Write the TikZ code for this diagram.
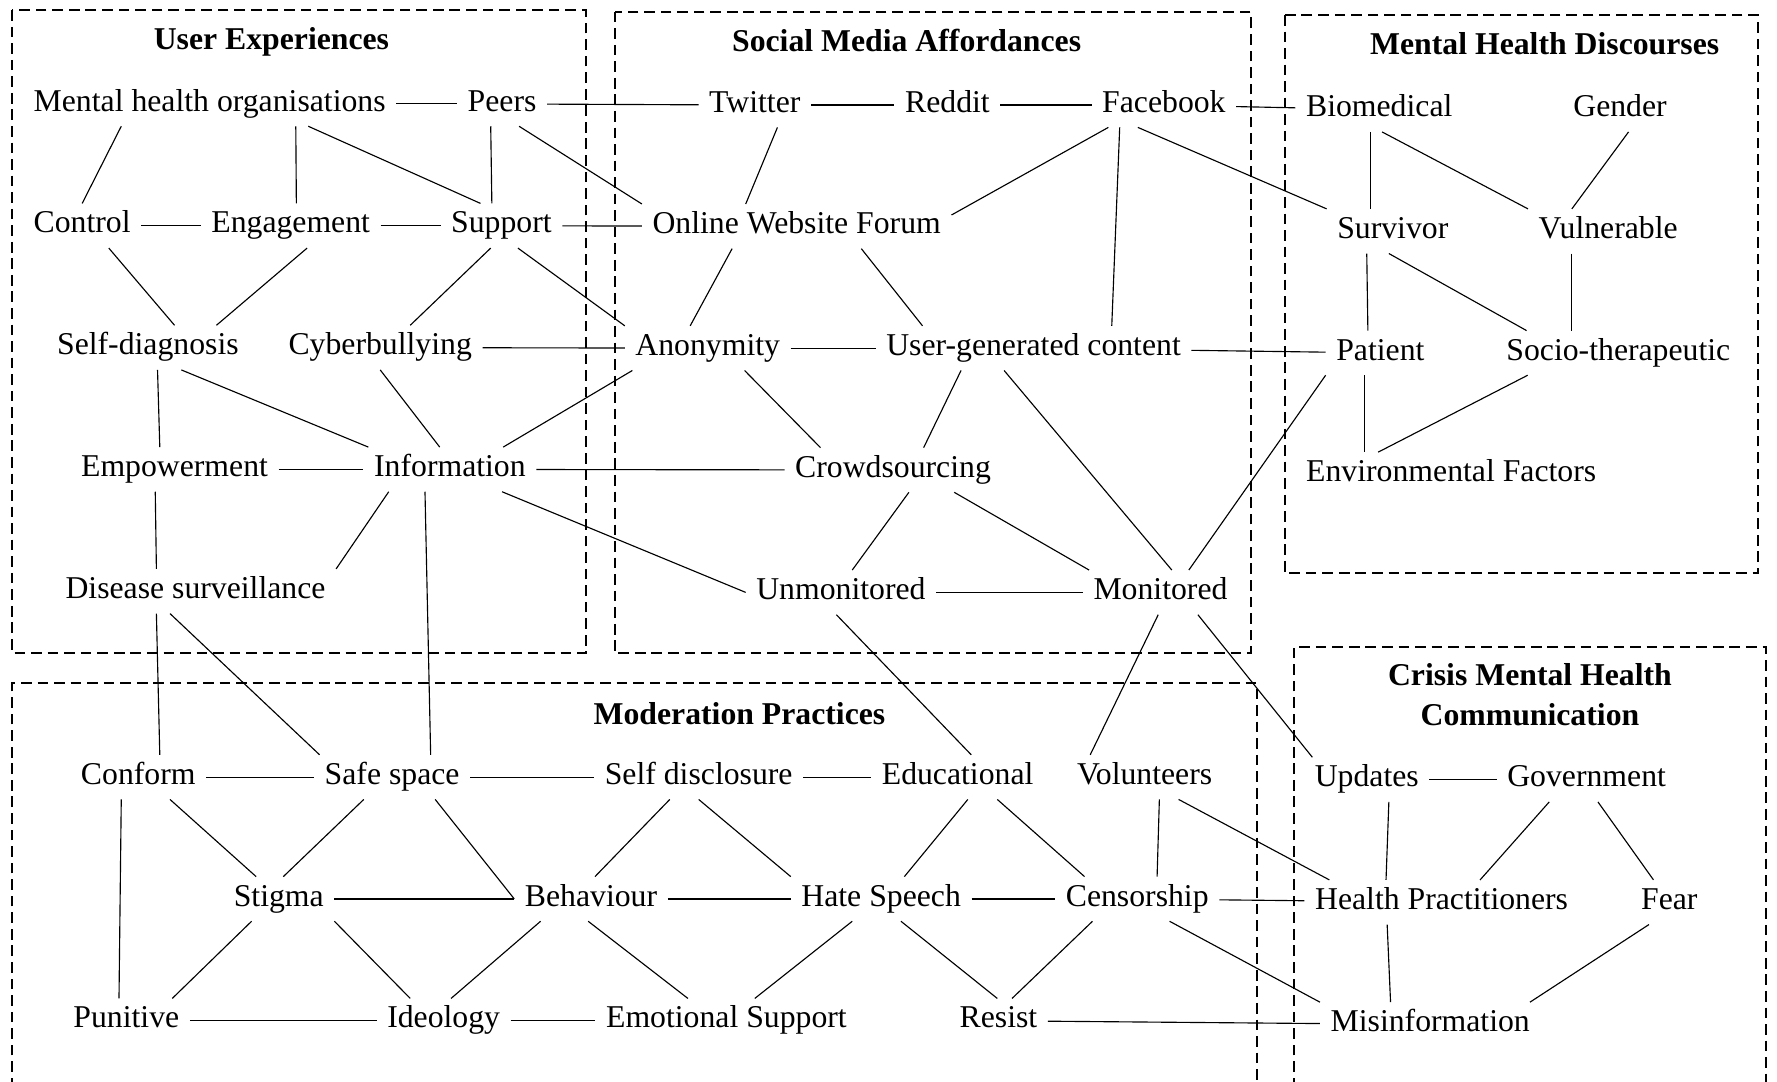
\documentclass[tikz,border=0pt]{standalone}
\usepackage{fontspec}
\setmainfont{Liberation Serif}
\begin{document}
\begin{tikzpicture}[x=0.5pt,y=-0.5pt,
  lbl/.style={font=\fontsize{14}{17}\selectfont, anchor=base, inner xsep=4.5pt, inner ysep=3pt, text height=9.8pt, text depth=3.5pt},
  ttl/.style={font=\fontsize{14}{17}\selectfont\bfseries, anchor=base, inner sep=0pt},
  grp/.style={draw, line width=0.9pt, dash pattern=on 4.7pt off 2.6pt},
  link/.style={line width=0.5pt},
]
\clip (0,0) rectangle (1568,954);
\fill[white] (0,0) rectangle (1568,954);

% group frames
\draw[grp] (11,9) rectangle (517,576.5);
\draw[grp] (542.4,10.3) rectangle (1103.5,576.5);
\draw[grp] (1134,13.2) rectangle (1551,506);
\draw[grp] (11,975) -- (11,603) -- (1109,603) -- (1109,975);
\draw[grp] (1142,975) -- (1142,570.6) -- (1558,570.6) -- (1558,975);

% group titles
\node[ttl] (tue) at (239.5,44) {User Experiences};
\node[ttl] (tsm) at (800,45.6) {Social Media Affordances};
\node[ttl] (tmh) at (1363,48) {Mental Health Discourses};
\node[ttl] (tmp) at (652.5,639) {Moderation Practices};
\node[ttl] (tcm1) at (1350,605.3) {Crisis Mental Health};
\node[ttl] (tcm2) at (1350,640.5) {Communication};

% user experiences
\node[lbl] (mho) at (185,98) {Mental health organisations};
\node[lbl] (peers) at (443,98) {Peers};
\node[lbl] (ctl) at (72.5,205.5) {Control};
\node[lbl] (eng) at (256.5,205.5) {Engagement};
\node[lbl] (sup) at (442.5,205.5) {Support};
\node[lbl] (sdg) at (130.5,313) {Self-diagnosis};
\node[lbl] (cyb) at (335.5,313) {Cyberbullying};
\node[lbl] (emp) at (154,420.5) {Empowerment};
\node[lbl] (inf) at (397,420.5) {Information};
\node[lbl] (ds) at (172.5,528) {Disease surveillance};

% social media affordances
\node[lbl] (tw) at (666,99) {Twitter};
\node[lbl] (rd) at (836,99) {Reddit};
\node[lbl] (fb) at (1027,99) {Facebook};
\node[lbl] (owf) at (703,206) {Online Website Forum};
\node[lbl] (ano) at (624.5,313.5) {Anonymity};
\node[lbl] (ugc) at (912,313.5) {User-generated content};
\node[lbl] (crowd) at (788,421) {Crowdsourcing};
\node[lbl] (unmon) at (742,529) {Unmonitored};
\node[lbl] (mon) at (1024,529) {Monitored};

% mental health discourses
\node[lbl] (bio) at (1217,103) {Biomedical};
\node[lbl] (gen) at (1429.5,103) {Gender};
\node[lbl] (surv) at (1229,210.3) {Survivor};
\node[lbl] (vul) at (1419,210.3) {Vulnerable};
\node[lbl] (pat) at (1218,317.7) {Patient};
\node[lbl] (soc) at (1428,317.7) {Socio-therapeutic};
\node[lbl] (env) at (1280.5,425) {Environmental Factors};

% moderation practices
\node[lbl] (conf) at (122,692) {Conform};
\node[lbl] (safe) at (346,692) {Safe space};
\node[lbl] (sdis) at (616.5,692) {Self disclosure};
\node[lbl] (edu) at (845,692) {Educational};
\node[lbl] (vol) at (1010,692) {Volunteers};
\node[lbl] (stig) at (246,799.5) {Stigma};
\node[lbl] (beh) at (521.5,799.5) {Behaviour};
\node[lbl] (hate) at (777.5,799.5) {Hate Speech};
\node[lbl] (cens) at (1003.5,799.5) {Censorship};
\node[lbl] (pun) at (111.5,907) {Punitive};
\node[lbl] (ideo) at (391.5,907) {Ideology};
\node[lbl] (emo) at (641,907) {Emotional Support};
\node[lbl] (res) at (881,907) {Resist};

% crisis communication
\node[lbl] (upd) at (1206,694.2) {Updates};
\node[lbl] (gov) at (1400,694.2) {Government};
\node[lbl] (hp) at (1272,802.4) {Health Practitioners};
\node[lbl] (fear) at (1473,802.4) {Fear};
\node[lbl] (mis) at (1262,910.3) {Misinformation};

% links: user experiences
\draw[link] (mho) -- (peers);
\draw[link] ([shift={(-78,0)}]mho.south) -- (ctl.north);
\draw[link] ([shift={(76,0)}]mho.south) -- ([shift={(5,0)}]eng.north);
\draw[link] ([shift={(87,0)}]mho.south) -- ([shift={(-18.5,0)}]sup.north);
\draw[link] ([shift={(-10,0)}]peers.south) -- ([shift={(-8.5,0)}]sup.north);
\draw[link] ([shift={(15,0)}]peers.south) -- (owf.north west);
\draw[link] (peers) -- (tw);
\draw[link] (ctl) -- (eng);
\draw[link] (eng) -- (sup);
\draw[link] (sup) -- (owf);
\draw[link] ([shift={(23.5,0)}]ctl.south) -- ([shift={(23.5,0)}]sdg.north);
\draw[link] ([shift={(14.5,0)}]eng.south) -- ([shift={(60.5,0)}]sdg.north);
\draw[link] ([shift={(-9.5,0)}]sup.south) -- ([shift={(26.5,0)}]cyb.north);
\draw[link] ([shift={(14.5,0)}]sup.south) -- (ano.north west);
\draw[link] (cyb) -- (ano);
\draw[link] ([shift={(8.5,0)}]sdg.south) -- ([shift={(-13,0)}]emp.north);
\draw[link] ([shift={(29.5,0)}]sdg.south) -- ([shift={(-72,0)}]inf.north);
\draw[link] (cyb.south) -- ([shift={(-9,0)}]inf.north);
\draw[link] ([shift={(47,0)}]inf.north) -- ([shift={(-66.5,0)}]ano.south);
\draw[link] (emp) -- (inf);
\draw[link] ([shift={(-17,0)}]emp.south) -- ([shift={(-34.5,0)}]ds.north);
\draw[link] ([shift={(-54,0)}]inf.south) -- (ds.north east);
\draw[link] (inf) -- (crowd);
\draw[link] ([shift={(46,0)}]inf.south) -- (unmon.west);
\draw[link] ([shift={(-22,0)}]inf.south) -- ([shift={(34,0)}]safe.north);
\draw[link] ([shift={(-34.5,0)}]ds.south) -- ([shift={(19,0)}]conf.north);
\draw[link] ([shift={(-22.5,0)}]ds.south) -- ([shift={(-64,0)}]safe.north);

% links: social media affordances
\draw[link] (tw) -- (rd);
\draw[link] (rd) -- (fb);
\draw[link] ([shift={(20,0)}]tw.south) -- ([shift={(-45,0)}]owf.north);
\draw[link] ([shift={(-49,0)}]fb.south) -- ([shift={(0,-10)}]owf.east);
\draw[link] ([shift={(-39,0)}]fb.south) -- ([shift={(69,0)}]ugc.north);
\draw[link] (fb) -- (bio);
\draw[link] ([shift={(-23,0)}]fb.south) -- (surv.north west);
\draw[link] ([shift={(-57,0)}]owf.south) -- ([shift={(-15.5,0)}]ano.north);
\draw[link] ([shift={(57,0)}]owf.south) -- ([shift={(-98,0)}]ugc.north);
\draw[link] (ano) -- (ugc);
\draw[link] ([shift={(32.5,0)}]ano.south) -- ([shift={(-64,0)}]crowd.north);
\draw[link] ([shift={(-64,0)}]ugc.south) -- ([shift={(27,0)}]crowd.north);
\draw[link] ([shift={(-26,0)}]ugc.south) -- ([shift={(10,0)}]mon.north);
\draw[link] (ugc) -- (pat);
\draw[link] ([shift={(14,0)}]crowd.south) -- ([shift={(10,0)}]unmon.north);
\draw[link] ([shift={(54,0)}]crowd.south) -- ([shift={(-63,0)}]mon.north);
\draw[link] (unmon) -- (mon);
\draw[link] ([shift={(25,0)}]mon.north) -- (pat.south west);
\draw[link] ([shift={(-4,0)}]unmon.south) -- ([shift={(12,0)}]edu.north);
\draw[link] ([shift={(-2,0)}]mon.south) -- ([shift={(-48,0)}]vol.north);
\draw[link] ([shift={(33,0)}]mon.south) -- ([shift={(-48,0)}]upd.north);

% links: mental health discourses
\draw[link] ([shift={(-8,0)}]bio.south) -- ([shift={(-20,0)}]surv.north);
\draw[link] ([shift={(2.5,0)}]bio.south) -- (vul.north west);
\draw[link] ([shift={(7.5,0)}]gen.south) -- ([shift={(-32,0)}]vul.north);
\draw[link] ([shift={(-23,0)}]surv.south) -- ([shift={(-11,0)}]pat.north);
\draw[link] ([shift={(-3.5,0)}]surv.south) -- ([shift={(-81,0)}]soc.north);
\draw[link] ([shift={(-32,0)}]vul.south) -- ([shift={(-41,0)}]soc.north);
\draw[link] ([shift={(-14,0)}]pat.south) -- ([shift={(-76.5,0)}]env.north);
\draw[link] ([shift={(-80,0)}]soc.south) -- ([shift={(-64.5,0)}]env.north);

% links: moderation practices
\draw[link] (conf) -- (safe);
\draw[link] (safe) -- (sdis);
\draw[link] (sdis) -- (edu);
\draw[link] ([shift={(28,0)}]conf.south) -- ([shift={(-20,0)}]stig.north);
\draw[link] ([shift={(-15,0)}]conf.south) -- ([shift={(-6.5,0)}]pun.north);
\draw[link] ([shift={(-25,0)}]safe.south) -- ([shift={(4,0)}]stig.north);
\draw[link] ([shift={(38,0)}]safe.south) -- (beh.west);
\draw[link] ([shift={(-25.5,0)}]sdis.south) -- ([shift={(3.5,0)}]beh.north);
\draw[link] (sdis.south) -- (hate.north west);
\draw[link] ([shift={(9,0)}]edu.south) -- ([shift={(20.5,0)}]hate.north);
\draw[link] ([shift={(35,0)}]edu.south) -- ([shift={(-46.5,0)}]cens.north);
\draw[link] ([shift={(13,0)}]vol.south) -- ([shift={(17.5,0)}]cens.north);
\draw[link] ([shift={(30,0)}]vol.south) -- ([shift={(-99,0)}]hp.north);
\draw[link] (stig) -- (beh);
\draw[link] (beh) -- (hate);
\draw[link] (hate) -- (cens);
\draw[link] (cens) -- (hp);
\draw[link] ([shift={(-24,0)}]stig.south) -- ([shift={(40.5,0)}]pun.north);
\draw[link] (stig.south east) -- ([shift={(-29.5,0)}]ideo.north);
\draw[link] ([shift={(-44.5,0)}]beh.south) -- ([shift={(6.5,0)}]ideo.north);
\draw[link] ([shift={(-2.5,0)}]beh.south) -- ([shift={(-34,0)}]emo.north);
\draw[link] ([shift={(-25.5,0)}]hate.south) -- ([shift={(25,0)}]emo.north);
\draw[link] ([shift={(17.5,0)}]hate.south) -- ([shift={(-1,0)}]res.north);
\draw[link] ([shift={(-39.5,0)}]cens.south) -- ([shift={(12,0)}]res.north);
\draw[link] ([shift={(28.5,0)}]cens.south) -- (mis.north west);
\draw[link] (pun) -- (ideo);
\draw[link] (ideo) -- (emo);
\draw[link] (res) -- (mis);

% links: crisis communication
\draw[link] (upd) -- (gov);
\draw[link] ([shift={(19.5,0)}]upd.south) -- ([shift={(-49,0)}]hp.north);
\draw[link] ([shift={(-33,0)}]gov.south) -- ([shift={(34,0)}]hp.north);
\draw[link] ([shift={(10,0)}]gov.south) -- ([shift={(-14,0)}]fear.north);
\draw[link] ([shift={(-48,0)}]hp.south) -- ([shift={(-35,0)}]mis.north);
\draw[link] ([shift={(-18,0)}]fear.south) -- ([shift={(88,0)}]mis.north);
\end{tikzpicture}
\end{document}
